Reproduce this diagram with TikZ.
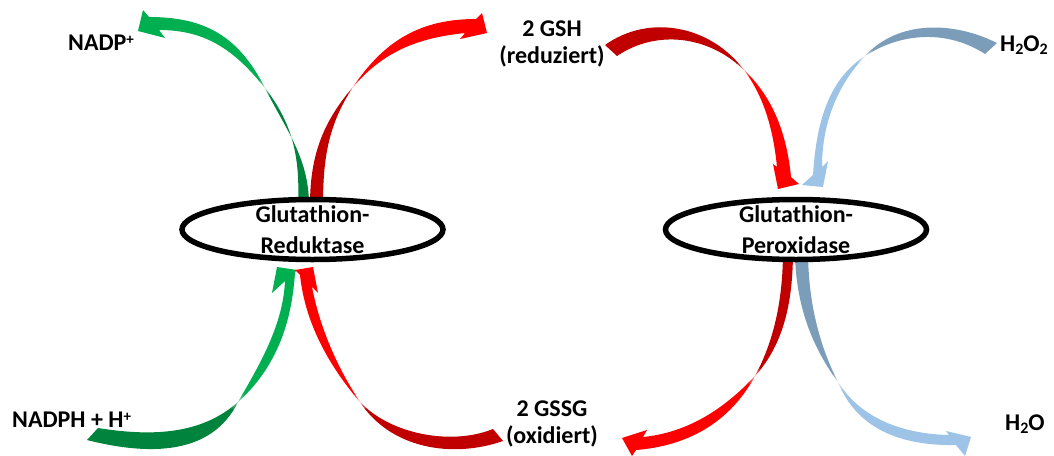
\documentclass[tikz,border=0pt]{standalone}
\usepackage{fontspec}
\setmainfont{Carlito}
\usetikzlibrary{shapes.geometric}
\definecolor{gdark}{RGB}{0,132,61}
\definecolor{gbright}{RGB}{0,176,80}
\definecolor{rdark}{RGB}{192,0,0}
\definecolor{rbright}{RGB}{255,0,0}
\definecolor{bdark}{RGB}{124,157,186}
\definecolor{bbright}{RGB}{157,195,230}
\newcommand\plussup{\raisebox{6pt}{\fontsize{15}{15}\selectfont +}}
\newcommand\twosub{\raisebox{-3.5pt}{\fontsize{16}{16}\selectfont 2}}
% #1 dark colour, #2 bright colour, #3 crossing point, #4 angle towards head, #5 outline
\newcommand\ribbon[5]{%
  \colorlet{ribdark}{#1}\colorlet{ribbright}{#2}\colorlet{ribpale}{#2!45!white}%
  \begin{scope}
    \clip #5;
    \begin{scope}[shift={#3},rotate=#4]
      \fill[ribdark] (-700,-700) rectangle (-9.5,700);
      \fill[ribbright] (9.5,-700) rectangle (700,700);
      \foreach \i in {0,...,9}{
        \pgfmathtruncatemacro\p{10*\i}
        \fill[ribpale!\p!ribdark] ({-10+\i},-700) rectangle ({-8.8+\i},700);
        \fill[ribbright!\p!ribpale] ({\i},-700) rectangle ({1.2+\i},700);
      }
    \end{scope}
  \end{scope}}
\tikzset{
  lbl/.style={font=\fontsize{24}{29}\selectfont\bfseries, inner sep=0pt},
  enz/.style={ellipse, draw=black, line width=5.5pt, fill=white,
    minimum width=261pt, minimum height=60pt, inner sep=0pt}
}
\begin{document}
\begin{tikzpicture}[x=1pt,y=-1pt]
\useasboundingbox (0,0) rectangle (1054,455);
\clip (0,0) rectangle (1054,455);
\fill[white] (0,0) rectangle (1054,455);

% Glutathion-Reduktase -> NADP+
\ribbon{gdark}{gbright}{(265,88)}{123.5}{(309,212) -- (309,205) .. controls (309,158) and (286,130) .. (265,88) .. controls (239,37) and (206,17) .. (149,17) -- (143,10) -- (138,31) -- (165,38) -- (159,30) .. controls (207,30) and (235,51) .. (265,88) .. controls (294,125) and (300,160) .. (298,205) -- (298,212) -- cycle}
% Glutathion-Reduktase -> 2 GSH
\ribbon{rdark}{rbright}{(353,87)}{44}{(323,212) -- (323,205) .. controls (323,159) and (328,125) .. (353,87) .. controls (384,41) and (420,19) .. (476,19) -- (482,13) -- (487,33) -- (460,39) -- (465,33) .. controls (418,38) and (384,51) .. (353,87) .. controls (322,123) and (310,157) .. (310,205) -- (310,212) -- cycle}
% 2 GSH -> Glutathion-Peroxidase
\ribbon{rdark}{rbright}{(744,70)}{-55.5}{(605,45) .. controls (650,13) and (711,26) .. (744,70) .. controls (765,98) and (773.5,132) .. (777,167) -- (773,164) -- (778,189) -- (799,184) -- (791,177) .. controls (787,136) and (774,98) .. (744,70) .. controls (709,36) and (657,29) .. (617,56) -- cycle}
% H2O2 -> Glutathion-Peroxidase
\ribbon{bdark}{bbright}{(865,56)}{-131}{(997,43) .. controls (953,21) and (898,20) .. (865,56) .. controls (836,87) and (822,125) .. (822,167) -- (828,161) -- (823,187) -- (802,185) -- (813,175) .. controls (816,128) and (826,81) .. (865,56) .. controls (902,32) and (948,30) .. (985,54) -- cycle}
% NADPH + H+ -> Glutathion-Reduktase
\ribbon{gdark}{gbright}{(238,402)}{56.5}{(98,428) .. controls (148,436) and (200,436) .. (238,402) .. controls (276,368) and (292,323) .. (295,272) -- (297,270) -- (277,267) -- (272,293) -- (285,281) .. controls (283,325) and (260,364) .. (238,402) .. controls (212,455) and (150,456) .. (87,440) -- cycle}
% 2 GSSG -> Glutathion-Reduktase
\ribbon{rdark}{rbright}{(360,402)}{115.5}{(493,429) .. controls (451,446) and (390,434) .. (360,402) .. controls (329,366) and (305,323) .. (300,275) -- (295,270) -- (313,267) -- (318,293) -- (312,287) .. controls (320,328) and (337,367) .. (360,402) .. controls (390,448) and (451,459) .. (503,441) -- cycle}
% Glutathion-Peroxidase -> 2 GSSG
\ribbon{rdark}{rbright}{(755,376)}{-127}{(783,250) .. controls (783,294) and (776,337) .. (755,376) .. controls (729,424) and (686,446) .. (636,450) -- (632,456) -- (622,438) -- (647,430) -- (643,437) .. controls (688,432.5) and (724,409) .. (755,376) .. controls (786,342) and (793,296) .. (793,250) -- cycle}
% Glutathion-Peroxidase -> H2O
\ribbon{bdark}{bbright}{(838,382)}{-56.5}{(795,250) .. controls (795,299) and (809,343) .. (838,382) .. controls (862,420) and (905,434) .. (949,435) -- (946,431) -- (971,437) -- (965,456) -- (956,445) .. controls (906,446) and (858,432) .. (838,382) .. controls (817,341) and (808,296) .. (808,250) -- cycle}

% enzymes
\node[enz] (gr) at (312.5,229.5) {};
\node[enz] (gpx) at (796,229.5) {};
\node[lbl, anchor=base] (gr1) at (312.5,222) {Glutathion-};
\node[lbl, anchor=base] (gr2) at (312.5,253) {Reduktase};
\node[lbl, anchor=base] (gpx1) at (796,222) {Glutathion-};
\node[lbl, anchor=base] (gpx2) at (796,253) {Peroxidase};

% substrates / products
\node[lbl, anchor=base west] (nadp) at (68,50) {NADP\plussup};
\node[lbl, anchor=base] (gsh) at (552,36) {2 GSH};
\node[lbl, anchor=base] (gshr) at (552,63) {(reduziert)};
\node[lbl, anchor=base west] (hoo) at (1000,51) {H\twosub O\twosub};
\node[lbl, anchor=base west] (nadph) at (12,427) {NADPH + H\plussup};
\node[lbl, anchor=base] (gssg) at (552,416) {2 GSSG};
\node[lbl, anchor=base] (gssgo) at (552,443) {(oxidiert)};
\node[lbl, anchor=base west] (ho) at (1005,430) {H\twosub O};
\end{tikzpicture}
\end{document}
